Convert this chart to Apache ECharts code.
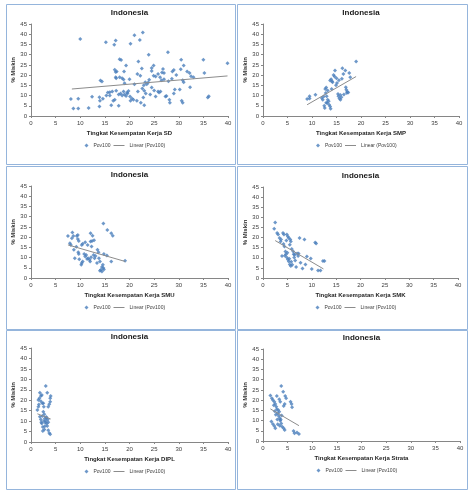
<!DOCTYPE html>
<html>
<head>
<meta charset="utf-8">
<script src="https://cdn.jsdelivr.net/npm/echarts@6/dist/echarts.min.js"></script>
<style>html,body{margin:0;padding:0;background:#fff}#c{width:474px;height:495px}</style>
</head>
<body>
<div id="c"></div>
<script>
// ---------- DATA ----------
const panelTitle = 'Indonesia';
const yAxisName = '% Miskin';
const seriesName = 'Pov100';
const trendName = 'Linear (Pov100)';
const xAxisNames = [
  'Tingkat Kesempatan Kerja SD',
  'Tingkat Kesempatan Kerja SMP',
  'Tingkat Kesempatan Kerja SMU',
  'Tingkat Kesempatan Kerja SMK',
  'Tingkat Kesempatan Kerja DIPL',
  'Tingkat Kesempatan Kerja Strata'
];
const xTickMax = 40, xTickStep = 5;
const yTickMax = 45, yTickStep = 5;

const sdPoints = [
  [8.1,8.3],[8.6,3.7],[9.6,8.4],[9.6,3.7],[10,37.7],[11.7,3.9],[12.4,9.4],
  [14.1,17.4],[14.4,16.9],[13.9,9.2],[14,7.5],[13.9,4.7],[14.6,8.4],[15.3,10],[15.6,11.5],[16,11.6],
  [16.3,5.2],[16.7,7.5],[17,8],[16.9,34.9],[17.2,36.9],[15.2,36.1],[17,22.6],[17.4,21.8],[17.2,19],
  [17.3,12.3],[17.8,5],[18,27.8],[18.3,27.4],[18.5,18.5],[18.8,17.9],[18.9,21.8],[19.3,24.7],
  [18.2,11],[18.5,10],[18.8,12],[19,10.5],[19.3,9.8],[19.6,11],[19.8,12.2],[20.1,9.5],[20.5,8.6],
  [20.8,8],[21,15.5],[20.2,35.3],[21,39.5],[22.1,37.2],[22.7,40.9],[21.8,26.6],[21.6,20.6],[22.2,19.7],
  [22.5,23.2],[22.9,15],[23.2,16.5],[23.5,15.5],[22.3,6.5],[23,5.2],[22.8,9],[23.3,11],[22.6,13.5],
  [21.7,12],[21.5,7.5],[23.9,29.9],[24.9,24.7],[24.5,23.5],[24,17.7],[24.9,19.7],[25.3,19.3],[24.5,14],
  [25,12.5],[25.3,9.5],[24.2,10.5],[25.8,12],[26,11.5],[26.3,12],[26.2,19],[26.6,21.3],[26.8,23],
  [27,18],[27.3,9.5],[27.5,9.8],[27.8,31.2],[27.9,17],[28.1,8],[28.2,6.5],[28.6,18.2],[28.7,21.8],
  [29,22.5],[29,11],[29.2,13],[29.5,20],[30.4,22.9],[30.5,27.5],[31,24.7],[30.8,17.5],[31,16.5],
  [30.2,13],[30.6,7.5],[30.8,6.5],[31.7,21.8],[32.2,21],[32.5,19.5],[33,19],[32.3,14.1],[35,27.5],
  [35.2,21],[35.9,9.1],[36.1,9.6],[39.9,25.8],[26.5,17.5],[27,21],[23.8,16.4],[17.2,21.5],[19,16],
  [16.5,12],[20,18],[23,12.3],[24.5,22],[25.8,20.5],[18,19],[17.3,18.5],[19.5,11.5],[20.2,7.5],
  [16,10],[17.8,10.5]
];
const sdTrend = [[8.3,13.2],[39.9,19.6]];

const smpPoints = [
  [9.0,8.3],[9.5,8.6],[9.5,9.6],[10.7,10.4],[12.0,8.8],[12.2,8],[12.5,5],[12.6,3.9],[12.7,13.2],[12.9,14],
  [12.8,11.3],[13.1,6.3],[13.2,8],[13.4,7.2],[13.7,4.7],[13.8,3.6],[13.7,17.4],[13.9,18],[14.1,17],
  [14.4,20.1],[14.6,19.3],[14.7,22.3],[14.9,15],[15.1,16.1],[15.4,9.6],[15.6,8.6],[15.8,8],[15.8,10.3],
  [16.0,9.2],[16.2,23.4],[16.1,18.2],[16.4,20.6],[16.8,22.3],[16.9,14.1],[17,12.8],[17.1,11.2],[17.2,11.9],
  [17.6,21],[17.8,19],[19.0,26.6],[13.2,12.5],[14.2,16.5],[15.0,18.5],[15.5,17.5],[12.4,9.5],[13.0,9.6],
  [14.0,13.2],[15.3,10.8],[16.5,10.5],[17.4,11.5],[13.5,5.5],[12.9,6.5]
];
const smpTrend = [[9.0,5.5],[19.0,19.3]];

const smuPoints = [
  [7.5,20.6],[7.9,17],[8.1,16.2],[8.4,22.3],[8.3,19.4],[8.6,20.6],[8.7,13.8],[8.9,9.7],[9.3,20.6],[9.5,21],
  [9.5,19.1],[9.7,18.1],[9.6,12.6],[9.7,11.7],[9.8,9.2],[10.2,6.5],[10.3,7.3],[10.5,8.1],[10.3,16.2],
  [10.5,16.8],[11,17.5],[11,10.5],[11.2,11.3],[11.5,16.2],[11.6,9.7],[11.9,8.9],[12,8.1],[12.1,21.9],
  [12.1,17.8],[12.4,18.1],[12.3,15.4],[12.5,20.7],[12.7,11.3],[12.9,9.7],[13.4,7.3],[13.5,13.8],[13.7,12.6],
  [13.8,9.7],[14,8.1],[14,3.6],[14.2,4],[14.4,3.2],[14.6,6.5],[14.7,4.9],[14.7,26.7],[14.8,11.7],
  [15.4,11],[15.5,23.5],[16.3,21.9],[16.6,20.7],[16.3,8.1],[19.1,8.4],[10.8,11.8],[11.4,9.3],[12.2,10.2],
  [13.1,10.8],[14.4,5.4],[14.8,4.2],[9.2,15.3],[12.8,18.5]
];
const smuTrend = [[7.5,16.2],[19.1,8.1]];

const smkPoints = [
  [2.5,27.4],[2.3,24.3],[2.9,22.3],[3.1,21.5],[3.4,19.8],[3.7,19],[3.9,10.9],[4.1,22.3],[4.3,21.5],
  [4.2,16.8],[4.4,15.6],[4.6,13.1],[4.7,11.8],[4.9,21.5],[5.1,20.5],[5.3,19.8],[4.9,10.1],[5.1,9.2],
  [5.3,8.1],[5.6,19],[5.7,18.1],[5.5,6.7],[5.7,5.9],[5.9,14.3],[6.2,13.1],[6.3,11.8],[6.4,10.1],[6.6,8.7],
  [6.8,5.5],[7.0,12.1],[7.2,10.9],[7.3,12.1],[7.5,19.8],[7.7,7.6],[8.1,4.7],[8.5,19],[8.7,6.7],[9.0,10.6],
  [9.8,9.6],[10,4.5],[10.7,17.6],[10.9,17.1],[11.3,3.7],[11.8,3.7],[12.3,8.4],[12.6,8.4],[4.5,11],
  [5.0,12.5],[5.4,9.5],[5.8,8],[6.0,6.5],[4.8,18.5],[5.5,16.5],[6.5,11.5],[3.6,18]
];
const smkTrend = [[2.5,18.5],[12.4,4.5]];

const diplPoints = [
  [1.5,20.1],[1.3,15.3],[1.5,16.9],[1.7,20.9],[2.0,22],[1.8,23.6],[2.2,22.5],[1.8,12.1],[2.0,10.8],
  [2.2,8.8],[2.4,7.2],[2.5,18.5],[2.6,16.9],[2.5,14.5],[2.7,13.3],[2.8,11.3],[3.0,10.1],[3.2,8.8],
  [3.3,7.6],[3.0,26.8],[3.3,23.6],[3.5,16.9],[3.7,18.1],[3.9,19.3],[3.9,20.9],[4.0,22],[3.5,5.6],
  [3.7,4.3],[3.9,3.7],[3.2,11.5],[3.4,10.8],[3.5,9.5],[2.7,6],[2.4,5.3],[2.3,12.5],[2.1,9.5],[2.9,9.2],
  [3.1,12],[2.6,10],[2.0,19.5],[2.3,18.5],[1.6,18],[2.8,7.5]
];
const diplTrend = [[1.3,13.5],[4.0,11.0]];

const strataPoints = [
  [1.5,22.2],[1.7,9.5],[2.0,8.3],[1.8,20.9],[2.0,20.1],[2.3,19.2],[2.5,18.1],[2.3,7.3],[2.5,6.2],
  [2.7,16.8],[2.8,15.5],[2.8,22],[3.0,13.5],[3.2,12.2],[3.4,11.1],[3.3,20.4],[3.5,19.2],[3.5,9.9],
  [3.7,8.6],[3.9,7],[3.7,26.9],[4.1,24.1],[4.2,17.1],[4.4,18.1],[4.5,22],[4.7,20.9],[4.2,6.2],[4.4,5.4],
  [5.6,19.2],[5.8,18.1],[5.9,16.5],[6.2,4.9],[6.4,3.8],[6.9,4.1],[7.3,3.4],[3.1,15.2],[3.3,14.3],
  [2.6,12.8],[2.9,10.5],[3.6,10.5],[3.8,12.5],[2.4,14.5],[3.0,8.2],[3.4,7.5],[2.2,17.5]
];
const strataTrend = [[1.5,15.7],[7.3,7.5]];

const panelPoints = [sdPoints, smpPoints, smuPoints, smkPoints, diplPoints, strataPoints];
const panelTrends = [sdTrend, smpTrend, smuTrend, smkTrend, diplTrend, strataTrend];

// ---------- LAYOUT ----------
const FONT = 'Liberation Sans';
const boxes = [ // panel frames
  {x:6, y:4, w:229, h:160}, {x:237, y:4, w:230, h:160},
  {x:6, y:166, w:229, h:163}, {x:237, y:166, w:230, h:163},
  {x:6, y:330, w:229, h:159}, {x:237, y:330, w:230, h:159}
];
const grids = [
  {left:31, top:24, width:197, height:92}, {left:263, top:24, width:196, height:92},
  {left:31, top:186, width:197, height:92}, {left:263, top:187, width:195, height:91},
  {left:31, top:348, width:197, height:94}, {left:263, top:349, width:197, height:92}
];

const chart = echarts.init(document.getElementById('c'), null, {renderer:'canvas'});
const axisColor = '#868686';
const legendText = {fontFamily:FONT, fontSize:5, color:'#404040'};
const legends = [];
grids.forEach((g,i) => {
  const cx = g.left + g.width/2;
  const ly = g.top + g.height + 27;
  legends.push({
    left: cx - 45, top: ly, padding:0, itemWidth:4, itemHeight:4,
    data:[{name: seriesName, icon:'diamond'}], textStyle:legendText, selectedMode:false
  });
  legends.push({
    left: cx - 16, top: ly, padding:0, itemWidth:11, itemHeight:1,
    data:[{name: trendName, icon:'rect'}], textStyle:legendText, selectedMode:false
  });
});
const option = {
  animation: false,
  backgroundColor: '#fff',
  graphic: boxes.map(b => ({
    type:'rect', shape:{x:b.x+0.5, y:b.y+0.5, width:b.w, height:b.h},
    style:{fill:'none', stroke:'#95b5dc', lineWidth:1}, silent:true, z:-1
  })),
  title: grids.map((g,i) => ({
    text: panelTitle, left: g.left + g.width/2, top: g.top - 15, textAlign:'center', padding:0,
    textStyle:{fontFamily:FONT, fontSize:8, fontWeight:'bold', color:'#1a1a1a'}
  })),
  legend: legends,
  grid: grids.map(g => Object.assign({}, g)),
  xAxis: grids.map((g,i) => ({
    type:'value', gridIndex:i, min:0, max:xTickMax, interval:xTickStep,
    name: xAxisNames[i], nameLocation:'middle', nameGap:14,
    nameTextStyle:{fontFamily:FONT, fontSize:6, fontWeight:'bold', color:'#262626'},
    axisLine:{show:true, lineStyle:{color:axisColor, width:1}},
    axisTick:{show:true, length:2, lineStyle:{color:axisColor}},
    axisLabel:{fontFamily:FONT, fontSize:6, color:'#404040', margin:4},
    splitLine:{show:false}
  })),
  yAxis: grids.map((g,i) => ({
    type:'value', gridIndex:i, min:0, max:yTickMax, interval:yTickStep,
    name: yAxisName, nameLocation:'middle', nameGap:12,
    nameTextStyle:{fontFamily:FONT, fontSize:6, fontWeight:'bold', color:'#262626'},
    axisLine:{show:true, lineStyle:{color:axisColor, width:1}},
    axisTick:{show:true, length:2, lineStyle:{color:axisColor}},
    axisLabel:{fontFamily:FONT, fontSize:6, color:'#404040', margin:4},
    splitLine:{show:false}
  })),
  series: []
};
panelPoints.forEach((pts,i) => {
  option.series.push({
    name: seriesName, type:'scatter', xAxisIndex:i, yAxisIndex:i,
    symbol:'diamond', symbolSize:4, itemStyle:{color:'#4a7ebb'}, data: pts
  });
  option.series.push({
    name: trendName, type:'line', xAxisIndex:i, yAxisIndex:i,
    symbol:'none', lineStyle:{color:'#8c8c8c', width:1}, itemStyle:{color:'#8c8c8c'},
    data: panelTrends[i], z:3
  });
});
chart.setOption(option);
</script>
</body>
</html>
